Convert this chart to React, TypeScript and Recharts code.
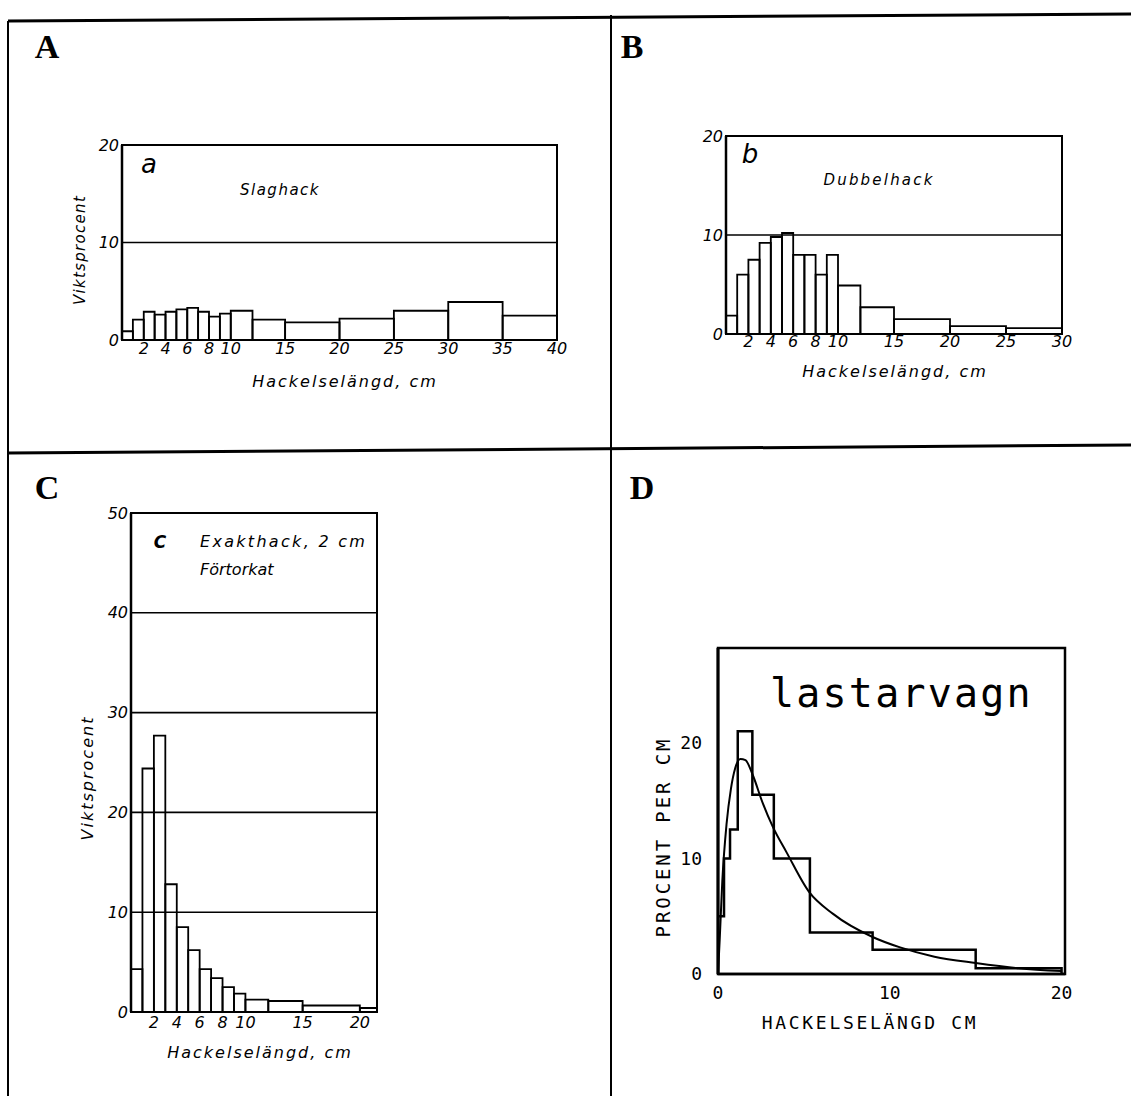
import React from 'react';
import { ComposedChart, XAxis, YAxis, ReferenceArea, ReferenceLine, Line } from 'recharts';

// ---------- Panel A (a: Slaghack) ----------
const edgesA = [0, 1, 2, 3, 4, 5, 6, 7, 8, 9, 10, 12, 15, 20, 25, 30, 35, 40];
const valuesA = [0.9, 2.1, 2.9, 2.6, 2.9, 3.15, 3.3, 2.9, 2.4, 2.7, 3.0, 2.1, 1.8, 2.2, 3.0, 3.9, 2.5];
const xTicksA = [2, 4, 6, 8, 10, 15, 20, 25, 30, 35, 40];
const yTicksA = [0, 10, 20];
const gridA = [10];

// ---------- Panel B (b: Dubbelhack) ----------
const edgesB = [0, 1, 2, 3, 4, 5, 6, 7, 8, 9, 10, 12, 15, 20, 25, 30];
const valuesB = [1.85, 6.0, 7.5, 9.2, 9.8, 10.2, 8.0, 8.0, 6.0, 8.0, 4.9, 2.7, 1.5, 0.8, 0.6];
const xTicksB = [2, 4, 6, 8, 10, 15, 20, 25, 30];
const yTicksB = [0, 10, 20];
const gridB = [10];

// ---------- Panel C (c: Exakthack, 2 cm, Förtorkat) ----------
const edgesC = [0, 1, 2, 3, 4, 5, 6, 7, 8, 9, 10, 12, 15, 20, 21.5];
const valuesC = [4.3, 24.4, 27.7, 12.8, 8.5, 6.2, 4.3, 3.4, 2.5, 1.85, 1.25, 1.1, 0.65, 0.4];
const xTicksC = [2, 4, 6, 8, 10, 15, 20];
const yTicksC = [0, 10, 20, 30, 40, 50];
const gridC = [10, 20, 30, 40];

// ---------- Panel D (lastarvagn) ----------
const stepEdgesD = [0, 0.35, 0.7, 1.15, 2.0, 3.25, 5.35, 9.0, 15.0, 20.0];
const stepValuesD = [5, 10, 12.5, 21, 15.5, 10, 3.6, 2.1, 0.5];
const curveXD = [0, 0.1, 0.25, 0.5, 0.75, 1.0, 1.3, 1.6, 2.0, 2.6, 3.2, 4.0, 5.3, 6.7, 9.0, 10.6, 12.6, 15.0, 17.5, 20.0];
const curveYD = [0, 3, 8, 13, 16, 17.8, 18.6, 18.5, 17.3, 14.8, 12.7, 10.5, 7.1, 5.2, 3.2, 2.3, 1.5, 0.95, 0.5, 0.25];
const xTicksD = [0, 10, 20];
const yTicksD = [0, 10, 20];

const SANS = '"DejaVu Sans", "Liberation Sans", sans-serif';
const MONO = '"DejaVu Sans Mono", "Liberation Mono", monospace';
const SERIF = '"Liberation Serif", "DejaVu Serif", serif';

type TxtProps = {
  x: number; y: number; size: number; family?: string; italic?: boolean; weight?: number | string;
  rotate?: number; anchor?: 'middle' | 'start'; spacing?: number; children: React.ReactNode;
};
const Txt = ({ x, y, size, family = SANS, italic = false, weight = 'normal', rotate = 0, anchor = 'middle', spacing = 0, children }: TxtProps) => (
  <div
    style={{
      position: 'absolute', left: x, top: y,
      transform: `translate(${anchor === 'middle' ? '-50%' : '0'}, -50%) rotate(${rotate}deg)`,
      whiteSpace: 'nowrap', fontSize: size, fontFamily: family,
      fontStyle: italic ? 'italic' : 'normal', fontWeight: weight as any,
      letterSpacing: spacing, lineHeight: 1, color: '#000',
    }}
  >
    {children}
  </div>
);

type HistProps = {
  plot: [number, number, number, number];
  xDomain: [number, number]; yDomain: [number, number];
  edges: number[]; values: number[]; xTicks: number[]; yTicks: number[]; grid: number[];
  xTickMargin: number; tickSize: number;
};

const Histogram = ({ plot, xDomain, yDomain, edges, values, xTicks, yTicks, grid, xTickMargin, tickSize }: HistProps) => {
  const [x1, y1, x2, y2] = plot;
  const padL = 60, padT = 20, padR = 20, padB = 60;
  const w = x2 - x1 + padL + padR;
  const h = y2 - y1 + padT + padB;
  const data = values.map((v, i) => ({ mid: (edges[i] + edges[i + 1]) / 2, v }));
  const tickStyle = { fontFamily: SANS, fontStyle: 'italic', fontSize: tickSize, fill: '#000' } as any;
  return (
    <div style={{ position: 'absolute', left: x1 - padL, top: y1 - padT }}>
      <ComposedChart width={w} height={h} data={data} margin={{ top: padT, right: padR, left: padL - 40, bottom: padB - 30 }}>
        <XAxis dataKey="mid" type="number" domain={xDomain} allowDataOverflow ticks={xTicks} interval={0}
          height={30} tickLine={false} tickSize={0} tickMargin={xTickMargin} axisLine={{ stroke: '#000', strokeWidth: 2 }} tick={tickStyle} />
        <YAxis type="number" domain={yDomain} allowDataOverflow ticks={yTicks} interval={0}
          width={40} tickLine={false} tickSize={0} tickMargin={3} axisLine={{ stroke: '#000', strokeWidth: 2.5 }} tick={tickStyle} />
        <ReferenceArea x1={xDomain[0]} x2={xDomain[1]} y1={yDomain[0]} y2={yDomain[1]} fill="none" stroke="#000" strokeWidth={2} ifOverflow="visible" />
        {values.map((v, i) => (
          <ReferenceArea key={'b' + i} x1={edges[i]} x2={edges[i + 1]} y1={0} y2={v} fill="none" fillOpacity={0} stroke="#000" strokeWidth={1.8} ifOverflow="visible" />
        ))}
        {grid.map((g) => (
          <ReferenceLine key={'g' + g} y={g} stroke="#000" strokeWidth={1.6} />
        ))}
      </ComposedChart>
    </div>
  );
};

const PanelD = () => {
  const x1 = 718, y1 = 648, x2 = 1065, y2 = 974;
  const padL = 70, padT = 20, padR = 20, padB = 60;
  const w = x2 - x1 + padL + padR;
  const h = y2 - y1 + padT + padB;
  const stepData: { x: number; y: number }[] = [{ x: stepEdgesD[0], y: 0 }];
  stepValuesD.forEach((v, i) => stepData.push({ x: stepEdgesD[i], y: v }));
  stepData.push({ x: stepEdgesD[stepEdgesD.length - 1], y: stepValuesD[stepValuesD.length - 1] });
  stepData.push({ x: stepEdgesD[stepEdgesD.length - 1], y: 0 });
  const curveData = curveXD.map((x, i) => ({ x, y: curveYD[i] }));
  const tickStyle = { fontFamily: MONO, fontSize: 18, fill: '#000' } as any;
  return (
    <div style={{ position: 'absolute', left: x1 - padL, top: y1 - padT }}>
      <ComposedChart width={w} height={h} margin={{ top: padT, right: padR, left: padL - 40, bottom: padB - 30 }}>
        <XAxis dataKey="x" type="number" domain={[0, 20.2]} allowDataOverflow ticks={xTicksD} interval={0}
          height={30} tickLine={false} tickSize={0} tickMargin={12} axisLine={{ stroke: '#000', strokeWidth: 2.5 }} tick={tickStyle} />
        <YAxis type="number" domain={[0, 28.2]} allowDataOverflow ticks={yTicksD} interval={0}
          width={40} tickLine={false} tickSize={0} tickMargin={16} axisLine={{ stroke: '#000', strokeWidth: 3 }} tick={tickStyle} />
        <ReferenceArea x1={0} x2={20.2} y1={0} y2={28.2} fill="none" stroke="#000" strokeWidth={2.5} ifOverflow="visible" />
        <Line data={stepData} dataKey="y" type="stepAfter" dot={false} stroke="#000" strokeWidth={2.5} isAnimationActive={false} />
        <Line data={curveData} dataKey="y" type="monotone" dot={false} stroke="#000" strokeWidth={2} isAnimationActive={false} />
      </ComposedChart>
    </div>
  );
};

export default function App() {
  return (
    <div style={{ position: 'absolute', left: 0, top: 0, width: 1131, height: 1096, background: '#fff', overflow: 'hidden' }}>
      {/* panel borders */}
      <svg width={1131} height={1096} style={{ position: 'absolute', left: 0, top: 0 }}>
        <line x1={8} y1={21} x2={1131} y2={14} stroke="#000" strokeWidth={3} />
        <line x1={8} y1={21} x2={8} y2={1096} stroke="#000" strokeWidth={2} />
        <line x1={611} y1={15} x2={611} y2={1096} stroke="#000" strokeWidth={2} />
        <line x1={8} y1={453} x2={1131} y2={445} stroke="#000" strokeWidth={3} />
      </svg>

      <Txt x={47} y={47} size={34} family={SERIF} weight="bold">A</Txt>
      <Txt x={632} y={47} size={34} family={SERIF} weight="bold">B</Txt>
      <Txt x={47} y={488} size={34} family={SERIF} weight="bold">C</Txt>
      <Txt x={642} y={488} size={34} family={SERIF} weight="bold">D</Txt>

      {/* Panel A */}
      <Histogram plot={[122, 145, 557, 340]} xDomain={[0, 40]} yDomain={[0, 20]} edges={edgesA} values={valuesA}
        xTicks={xTicksA} yTicks={yTicksA} grid={gridA} xTickMargin={3} tickSize={16} />
      <Txt x={149} y={164} size={26} italic>a</Txt>
      <Txt x={280} y={190} size={15} italic spacing={1.5}>Slaghack</Txt>
      <Txt x={80} y={250} size={15} italic spacing={1.3} rotate={-90}>Viktsprocent</Txt>
      <Txt x={345} y={382} size={16} italic spacing={2}>Hackelselängd, cm</Txt>

      {/* Panel B */}
      <Histogram plot={[726, 136, 1062, 334]} xDomain={[0, 30]} yDomain={[0, 20]} edges={edgesB} values={valuesB}
        xTicks={xTicksB} yTicks={yTicksB} grid={gridB} xTickMargin={2} tickSize={16} />
      <Txt x={750} y={154} size={26} italic>b</Txt>
      <Txt x={879} y={180} size={15} italic spacing={2.2}>Dubbelhack</Txt>
      <Txt x={895} y={372} size={16} italic spacing={2}>Hackelselängd, cm</Txt>

      {/* Panel C */}
      <Histogram plot={[131, 513, 377, 1012]} xDomain={[0, 21.5]} yDomain={[0, 50]} edges={edgesC} values={valuesC}
        xTicks={xTicksC} yTicks={yTicksC} grid={gridC} xTickMargin={5} tickSize={16} />
      <Txt x={160} y={542} size={17} weight="bold" italic>C</Txt>
      <Txt x={200} y={542} size={16} italic spacing={2.3} anchor="start">Exakthack, 2 cm</Txt>
      <Txt x={200} y={570} size={16} italic anchor="start">Förtorkat</Txt>
      <Txt x={88} y={778} size={16} italic spacing={2} rotate={-90}>Viktsprocent</Txt>
      <Txt x={260} y={1053} size={16} italic spacing={2}>Hackelselängd, cm</Txt>

      {/* Panel D */}
      <PanelD />
      <Txt x={770} y={693} size={40} family={MONO} spacing={2.2} anchor="start">lastarvagn</Txt>
      <Txt x={663} y={837} size={19} family={MONO} spacing={2.9} rotate={-90}>PROCENT PER CM</Txt>
      <Txt x={870} y={1023} size={18} family={MONO} spacing={2.7}>HACKELSELÄNGD CM</Txt>
    </div>
  );
}
